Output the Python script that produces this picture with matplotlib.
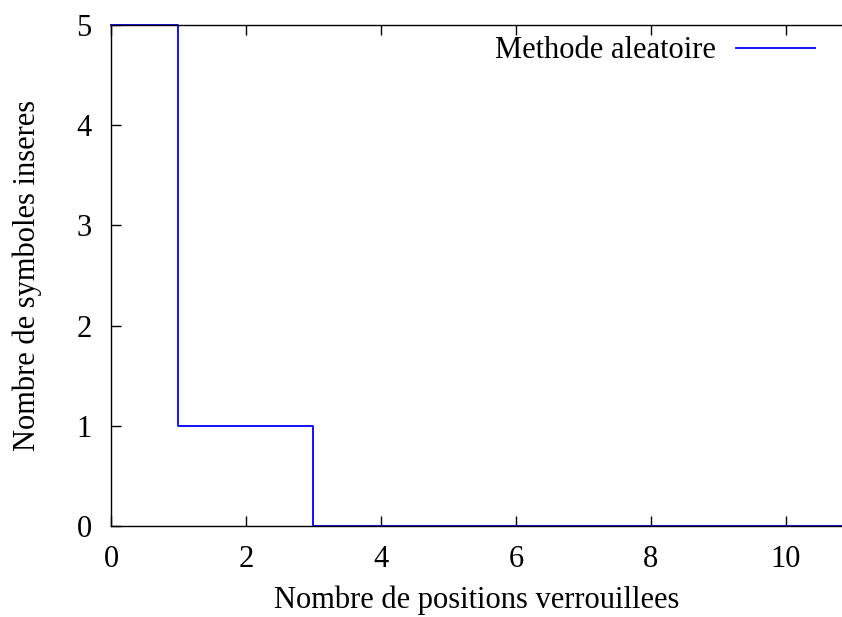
import matplotlib
matplotlib.use("Agg")
import matplotlib.pyplot as plt

# step data: locked positions vs inserted symbols
positions = [0, 1, 2, 3, 4, 5, 6, 7, 8, 9, 10, 11]
inserted = [5, 1, 1, 0, 0, 0, 0, 0, 0, 0, 0, 0]
xticks = [0, 2, 4, 6, 8, 10]
yticks = [0, 1, 2, 3, 4, 5]

plt.rcParams['font.family'] = ['Liberation Serif', 'DejaVu Serif']
plt.rcParams['font.size'] = 22

fig = plt.figure(figsize=(8.42, 6.17), dpi=100)
ax = fig.add_axes([0.1318, 0.1475, 0.8695, 0.812])

ax.plot(positions, inserted, drawstyle='steps-post', color='#0000ff',
        lw=1.3, label='Methode aleatoire', clip_on=False)

ax.set_xlim(0, 10.85)
ax.set_ylim(0, 5)
ax.set_xticks(xticks)
ax.set_yticks(yticks)
ax.tick_params(direction='in', length=7, width=1, top=True, right=False)
ax.tick_params(axis='x', pad=14)
ax.tick_params(axis='y', pad=14)
ax.spines['right'].set_visible(False)
for s in ax.spines.values():
    s.set_linewidth(1)

ax.set_xlabel('Nombre de positions verrouillees', labelpad=8)
ax.set_ylabel('Nombre de symboles inseres', labelpad=25)

ax.legend(loc='upper right', frameon=False, markerfirst=False,
          handlelength=2.6, handletextpad=0.65, borderaxespad=0.0,
          bbox_to_anchor=(0.979, 1.002))

fig.savefig('out.png', dpi=100)
